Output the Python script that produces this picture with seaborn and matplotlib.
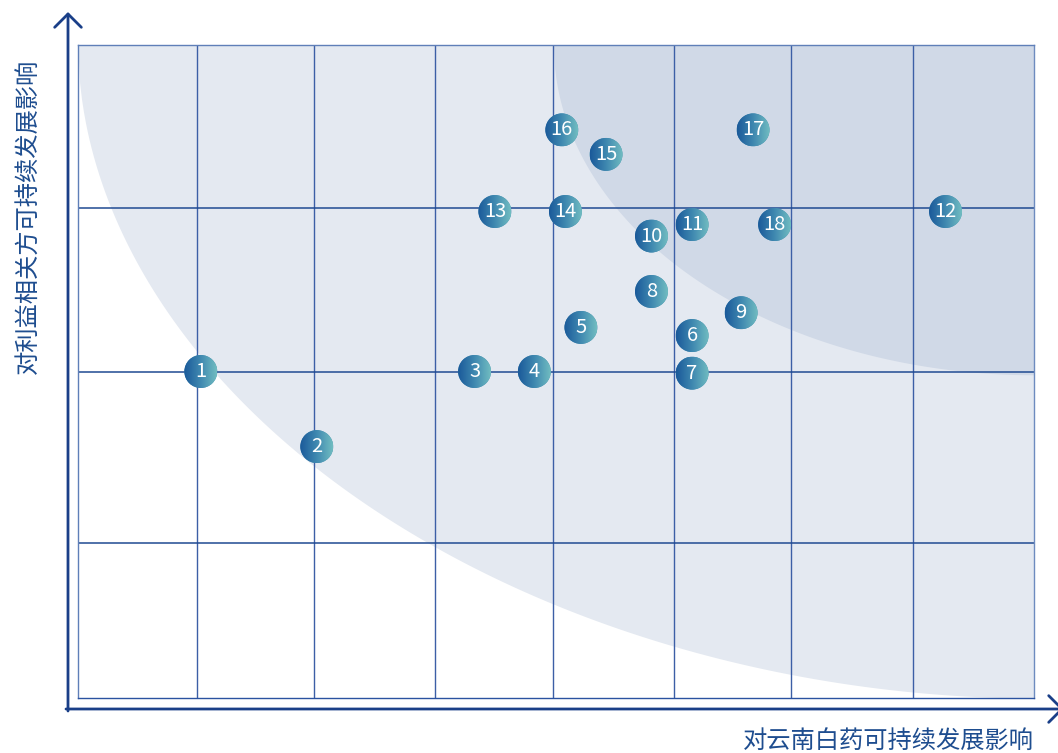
import matplotlib
matplotlib.use('Agg')
import matplotlib.pyplot as plt
from matplotlib.colors import LinearSegmentedColormap
from matplotlib.patches import Ellipse
import numpy as np
import pandas as pd
import seaborn as sns

# data (x: 0-8 columns, y: 0-4 rows)
labels = [str(i) for i in range(1, 19)]
x_vals = [1.03, 2.00, 3.32, 3.82, 4.21, 5.14, 5.14, 4.80, 5.55,
          4.80, 5.14, 7.26, 3.49, 4.08, 4.42, 4.05, 5.65, 5.83]
y_vals = [2.00, 1.54, 2.00, 2.00, 2.27, 2.22, 1.99, 2.49, 2.36,
          2.83, 2.90, 2.98, 2.98, 2.98, 3.33, 3.48, 3.48, 2.90]
x_grid = [1.0, 1.98, 2.99, 3.98, 4.99, 5.97, 6.99]
y_grid = [0.95, 2.0, 3.0]
x_label = '对云南白药可持续发展影响'
y_label = '对利益相关方可持续发展影响'

df = pd.DataFrame({'x': x_vals, 'y': y_vals, 'label': labels})

sns.set_theme(style='white')
plt.rcParams['font.family'] = ['Noto Sans CJK SC', 'DejaVu Sans']

W, H = 1058, 753
fig = plt.figure(figsize=(W / 100, H / 100), dpi=100)
ax = fig.add_axes([77.7 / W, (H - 698) / H, (1034 - 77.7) / W, (698 - 45) / H])
ax.set_xlim(0, 8)
ax.set_ylim(0, 4)

# shaded zones
xs = np.linspace(0, 8, 500)
u = np.clip((8 - xs) / 8, 0, 1)
p = 1.95
yc = 4 - 4 * np.clip(1 - u ** p, 0, 1) ** (1 / p)
ax.fill_between(xs, yc, 4, color='#e4e9f1', lw=0, zorder=0)

xs2 = np.linspace(3.98, 8, 400)
u2 = np.clip((8 - xs2) / 4.02, 0, 1)
yc2 = 4 - 2.02 * np.sqrt(np.clip(1 - u2 ** 2, 0, 1))
ax.fill_between(xs2, yc2, 4, color='#d0d9e7', lw=0, zorder=0.5)

# grid
for gx in x_grid:
    ax.axvline(gx, color='#3c5fa6', lw=1.0, zorder=1)
for gy in y_grid:
    ax.axhline(gy, color='#1f4a92', lw=1.1, zorder=1)
for side, col in [('top', '#5f7fb8'), ('left', '#5f7fb8'),
                  ('right', '#6d8bbf'), ('bottom', '#2a52a0')]:
    ax.spines[side].set_color(col)
    ax.spines[side].set_linewidth(1.0)
ax.set_xticks([])
ax.set_yticks([])

# points
sns.scatterplot(data=df, x='x', y='y', s=560, color='#3f88ad',
                edgecolor='none', ax=ax, zorder=3, legend=False)
ax.set_xlabel('')
ax.set_ylabel('')

cmap = LinearSegmentedColormap.from_list('ball', ['#1b5a9a', '#3f88b0', '#70bcc1'])
grad = np.linspace(0, 1, 64).reshape(1, -1)
rx, ry = 16.5 / 119.54, 16.5 / 163.25
for _, r in df.iterrows():
    e = Ellipse((r['x'], r['y']), 2 * rx, 2 * ry, transform=ax.transData,
                facecolor='none', edgecolor='none')
    ax.add_patch(e)
    im = ax.imshow(grad, extent=[r['x'] - rx, r['x'] + rx, r['y'] - ry, r['y'] + ry],
                   cmap=cmap, aspect='auto', zorder=4, interpolation='bilinear')
    im.set_clip_path(e)
    ax.text(r['x'], r['y'], r['label'], color='white', ha='center', va='center',
            fontsize=14.5, zorder=5)
ax.set_xlim(0, 8)
ax.set_ylim(0, 4)

# axis arrows
arrow_col = '#1a3f88'
ax.annotate('', xy=(68, H - 12), xytext=(68, H - 711), xycoords='figure pixels',
            textcoords='figure pixels', annotation_clip=False,
            arrowprops=dict(arrowstyle='->,head_length=0.8,head_width=0.8',
                            color=arrow_col, lw=2.0, shrinkA=0, shrinkB=0))
ax.annotate('', xy=(1064, H - 709), xytext=(66, H - 709), xycoords='figure pixels',
            textcoords='figure pixels', annotation_clip=False,
            arrowprops=dict(arrowstyle='->,head_length=0.8,head_width=0.8',
                            color=arrow_col, lw=2.0, shrinkA=0, shrinkB=0))

fig.text(28 / W, (H - 216) / H, y_label, rotation=90, ha='center', va='center',
         fontsize=17.5, color='#1e4d8f')
fig.text(888 / W, (H - 741) / H, x_label, ha='center', va='center',
         fontsize=17.5, color='#1e4d8f')

fig.savefig('out.png', dpi=100)
